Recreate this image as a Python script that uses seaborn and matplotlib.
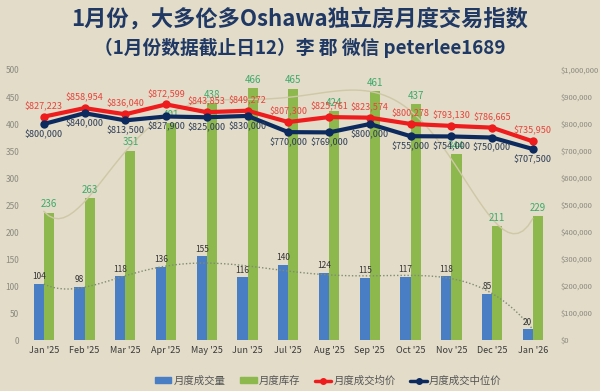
import numpy as np
import pandas as pd
import matplotlib
matplotlib.use("Agg")
import matplotlib.pyplot as plt
import seaborn as sns
from matplotlib.ticker import FuncFormatter, MultipleLocator
from matplotlib.lines import Line2D
from matplotlib.patches import Patch

# data
months = ["Jan '25", "Feb '25", "Mar '25", "Apr '25", "May '25", "Jun '25", "Jul '25",
          "Aug '25", "Sep '25", "Oct '25", "Nov '25", "Dec '25", "Jan '26"]
volume = [104, 98, 118, 136, 155, 116, 140, 124, 115, 117, 118, 85, 20]
inventory = [236, 263, 351, 401, 438, 466, 465, 424, 461, 437, 344, 211, 229]
avg_price = [827223, 858954, 836040, 872599, 843853, 849272, 807300,
             825761, 823574, 800278, 793130, 786665, 735950]
median_price = [800000, 840000, 813500, 827900, 825000, 830000, 770000,
                769000, 800000, 755000, 754000, 750000, 707500]

BG = "#E2DCC9"
BLUE = "#4A7EC4"
GREEN = "#8DB84E"
RED = "#EE1C1C"
NAVY = "#0C2A5E"

sns.set_theme(style="white", rc={"axes.facecolor": BG, "figure.facecolor": BG,
                                 "savefig.facecolor": BG})
plt.rcParams["font.family"] = ["Noto Sans CJK SC", "DejaVu Sans"]

fig = plt.figure(figsize=(6, 3.91), dpi=100)
ax = fig.add_axes([0.039, 0.130, 0.883, 0.691])

# bars
bars = pd.DataFrame({
    "month": months * 2,
    "value": volume + inventory,
    "series": ["月度成交量"] * len(months) + ["月度库存"] * len(months),
})
sns.barplot(data=bars, x="month", y="value", hue="series", palette=[BLUE, GREEN],
            width=0.5, saturation=1, linewidth=0, ax=ax, legend=False)

# trend lines (6th order polynomial, like the Excel original)
xpos = np.arange(len(months))
sns.regplot(x=xpos, y=np.array(inventory), order=6, scatter=False, ci=None, ax=ax,
            line_kws=dict(color="#CFC7A6", lw=1.0))
sns.regplot(x=xpos, y=np.array(volume), order=6, scatter=False, ci=None, ax=ax,
            line_kws=dict(color="#7E8C72", lw=1.0, ls=(0, (1, 1.5))))

ax.set_xlim(-0.5, len(months) - 0.5)
ax.set_ylim(0, 500)
ax.yaxis.set_major_locator(MultipleLocator(50))
ax.set_xticks(xpos)
ax.set_xticklabels(months, fontsize=6.5, color="#3A3A3A")
ax.tick_params(axis="y", labelsize=6, labelcolor="#8C8A80", length=0, pad=3)
ax.tick_params(axis="x", length=0, pad=4)
ax.set_xlabel("")
ax.set_ylabel("")
sns.despine(ax=ax, left=True, bottom=True)

for i, v in enumerate(volume):
    ax.annotate(str(v), (i - 0.125, v), xytext=(0, 2), textcoords="offset points",
                ha="center", va="bottom", fontsize=6, color="#333333")
for i, v in enumerate(inventory):
    ax.annotate(str(v), (i + 0.125, v), xytext=(0, 2.5), textcoords="offset points",
                ha="center", va="bottom", fontsize=7, color="#3DAA6A")

# price lines on the right axis
ax2 = ax.twinx()
sns.lineplot(x=xpos, y=avg_price, ax=ax2, color=RED, lw=3, marker="o", ms=6,
             mec=RED, mew=0)
sns.lineplot(x=xpos, y=median_price, ax=ax2, color=NAVY, lw=3, marker="o", ms=6,
             mec=NAVY, mew=0)
ax2.set_ylim(0, 1_000_000)
ax2.yaxis.set_major_locator(MultipleLocator(100_000))
ax2.yaxis.set_major_formatter(FuncFormatter(lambda v, p: f"${v:,.0f}"))
ax2.tick_params(axis="y", labelsize=5.5, labelcolor="#8C8A80", length=0, pad=5)
ax2.set_xlim(-0.5, len(months) - 0.5)
sns.despine(ax=ax2, left=True, bottom=True, right=True)

for i, v in enumerate(avg_price):
    ax2.annotate(f"${v:,}", (i, v), xytext=(0, 4), textcoords="offset points",
                 ha="center", va="bottom", fontsize=6.5, color="#E8433A")
for i, v in enumerate(median_price):
    ax2.annotate(f"${v:,}", (i, v), xytext=(0, -4), textcoords="offset points",
                 ha="center", va="top", fontsize=6.5, color="#2E3D57")

# titles
fig.text(0.5, 0.951, "1月份，大多伦多Oshawa独立房月度交易指数", ha="center", va="center",
         fontsize=16, fontweight="bold", color="#1F3864")
fig.text(0.5, 0.877, "（1月份数据截止日12）李 郡 微信 peterlee1689", ha="center", va="center",
         fontsize=13.5, fontweight="bold", color="#1F3864")

# legend
handles = [
    Patch(color=BLUE, label="月度成交量"),
    Patch(color=GREEN, label="月度库存"),
    Line2D([], [], color=RED, lw=2.5, marker="o", ms=4, label="月度成交均价"),
    Line2D([], [], color=NAVY, lw=2.5, marker="o", ms=4, label="月度成交中位价"),
]
fig.legend(handles=handles, loc="center", bbox_to_anchor=(0.547, 0.026), ncol=4,
           frameon=False, fontsize=7.5, labelcolor="#555555", handlelength=1.6,
           handleheight=0.5, handletextpad=0.2, columnspacing=1.4)

fig.savefig("out.png", dpi=100)
